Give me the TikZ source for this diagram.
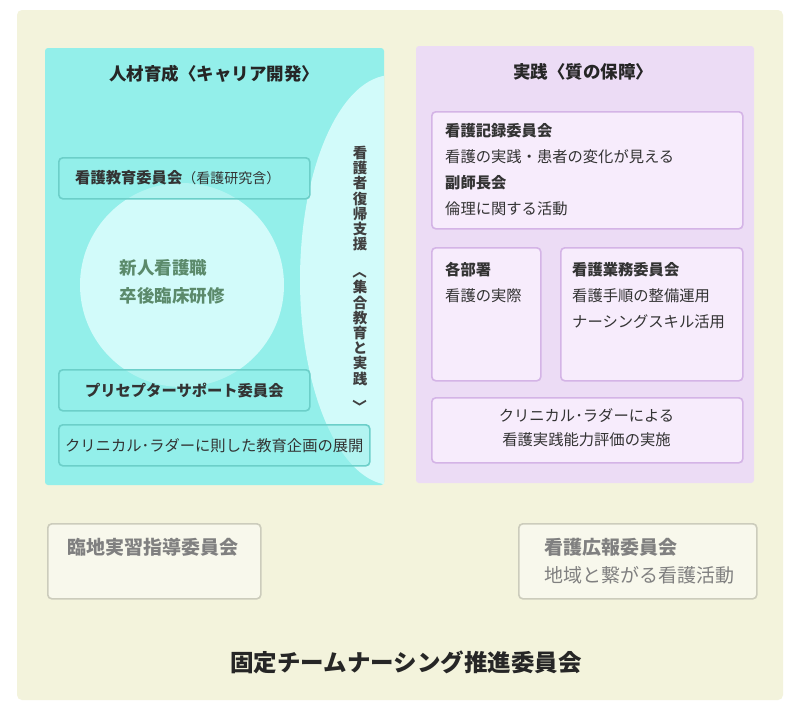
\documentclass[tikz,border=0pt]{standalone}
\usepackage{fontspec}
\setmainfont{Noto Sans CJK JP}
\begin{document}
\begin{tikzpicture}[x=1pt,y=-1pt,
 box/.style={draw=#1,line width=1.6pt,rounded corners=4pt},
 t/.style={inner sep=0pt,font=\fontsize{15.3}{17}\selectfont,text=black!80},
 tb/.style={t,font=\fontsize{15.3}{17}\selectfont\bfseries},
 ttl/.style={inner sep=0pt,font=\fontsize{17.5}{20}\selectfont\bfseries,text=black!85}]
\definecolor{bg}{HTML}{F3F3DC}
\definecolor{teal}{HTML}{93EFEA}
\definecolor{lteal}{HTML}{D2FBFA}
\definecolor{tealb}{HTML}{6CCFC9}
\definecolor{purp}{HTML}{ECDCF5}
\definecolor{pbox}{HTML}{F7ECFC}
\definecolor{pbord}{HTML}{D4B4E6}
\definecolor{gbox}{HTML}{F8F8EC}
\definecolor{gbord}{HTML}{CCCCBC}
\definecolor{grn}{HTML}{5B8A6B}
\useasboundingbox (0,0) rectangle (800,710);
\fill[white] (0,0) rectangle (800,710);
\fill[bg,rounded corners=5pt] (17,10) rectangle (783,700);
% left panel
\fill[teal,rounded corners=3pt] (45,48) rectangle (384,485);
\begin{scope}
\clip (45,48) rectangle (384,485);
\fill[lteal] (392,280) ellipse [x radius=92, y radius=205];
\end{scope}
\fill[lteal] (182,285) circle (102);
\node[ttl] (lt) at (214,74) {人材育成〈キャリア開発〉};
\node[box=tealb,fill=teal,fill opacity=0.5,text opacity=1,minimum width=251,minimum height=41,anchor=north west] (b1) at (58,157) {};
\node[t,anchor=west] (b1t) at (75,177.5) {\textbf{看護教育委員会}\fontsize{14}{15}\selectfont（看護研究含）};
\node[inner sep=0pt,align=left,text=grn,font=\fontsize{17.5}{28}\selectfont\bfseries] (c) at (172,282) {新人看護職\\卒後臨床研修};
\node[box=tealb,fill=teal,fill opacity=0.5,text opacity=1,minimum width=251,minimum height=41,anchor=north west] (b2) at (58,369) {};
\node[tb] (b2t) at (b2) {プリセプターサポート委員会};
\node[box=tealb,fill=teal,fill opacity=0.5,text opacity=1,minimum width=311,minimum height=41,anchor=north west] (b3) at (58,424) {};
\node[t] (b3t) at (b3) {クリニカル･ラダーに則した教育企画の展開};
\node[inner sep=0pt,align=center,text=black!75,font=\fontsize{14.5}{15.2}\selectfont\bfseries] (v) at (360,280) {看\\護\\者\\復\\帰\\支\\援\\\rotatebox{-90}{〈}\\集\\合\\教\\育\\と\\実\\践\\\rotatebox{-90}{〉}};
% right panel
\fill[purp,rounded corners=3pt] (416,46) rectangle (754,483);
\node[ttl] (rt) at (583,72) {実践〈質の保障〉};
\node[box=pbord,fill=pbox,minimum width=311,minimum height=117,anchor=north west] (p1) at (431,111) {};
\node[tb,anchor=west] at (445,131) {看護記録委員会};
\node[t,anchor=west] at (445,157) {看護の実践・患者の変化が見える};
\node[tb,anchor=west] at (445,183) {副師長会};
\node[t,anchor=west] at (445,209) {倫理に関する活動};
\node[box=pbord,fill=pbox,minimum width=109,minimum height=133,anchor=north west] (p2) at (431,247) {};
\node[tb,anchor=west] at (445,270) {各部署};
\node[t,anchor=west] at (445,296) {看護の実際};
\node[box=pbord,fill=pbox,minimum width=182,minimum height=133,anchor=north west] (p3) at (560,247) {};
\node[tb,anchor=west] at (572,270) {看護業務委員会};
\node[t,anchor=west] at (572,296) {看護手順の整備運用};
\node[t,anchor=west] at (572,322) {ナーシングスキル活用};
\node[box=pbord,fill=pbox,minimum width=311,minimum height=65,anchor=north west] (p4) at (431,397) {};
\node[t] at (586.5,416) {クリニカル･ラダーによる};
\node[t] at (586.5,440) {看護実践能力評価の実施};
% lower boxes
\node[box=gbord,fill=gbox,minimum width=213,minimum height=75,anchor=north west] (g1) at (47,523) {};
\node[tb,anchor=west,text=black!50,font=\fontsize{19}{21}\selectfont\bfseries] at (67,547) {臨地実習指導委員会};
\node[box=gbord,fill=gbox,minimum width=238,minimum height=75,anchor=north west] (g2) at (518,523) {};
\node[tb,anchor=west,text=black!50,font=\fontsize{19}{21}\selectfont\bfseries] at (544,547) {看護広報委員会};
\node[t,anchor=west,text=black!50,font=\fontsize{19}{21}\selectfont] at (544,575) {地域と繋がる看護活動};
\node[inner sep=0pt,text=black!85,font=\fontsize{23.5}{26}\selectfont\bfseries] (main) at (406,662) {固定チームナーシング推進委員会};
\end{tikzpicture}
\end{document}
